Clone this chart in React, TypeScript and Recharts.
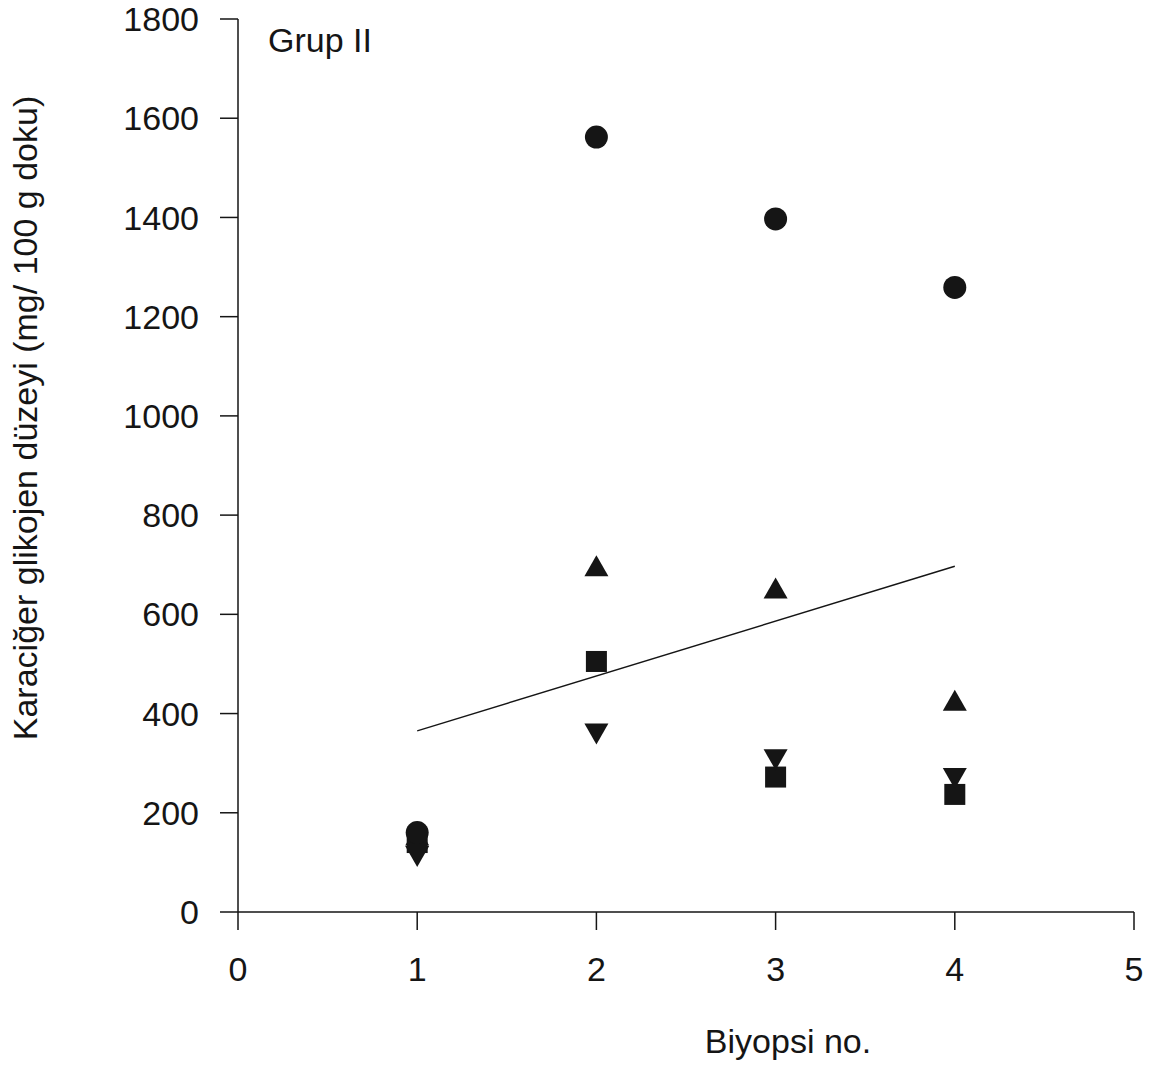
import React from 'react';
import { ScatterChart, Scatter, XAxis, YAxis } from 'recharts';

// values (Grup II)
const biopsies = [1, 2, 3, 4];
const circleValues = [160, 1562, 1397, 1259];
const upTriangleValues = [150, 693, 648, 422];
const squareValues = [140, 505, 272, 237];
const downTriangleValues = [117, 364, 312, 274];

const trendX = [1, 4];
const trendY = [365, 697];

const xTicks = [0, 1, 2, 3, 4, 5];
const yTicks = [0, 200, 400, 600, 800, 1000, 1200, 1400, 1600, 1800];

const toPoints = (values: number[]) => biopsies.map((x, i) => ({ x, y: values[i] }));
const trendPoints = trendX.map((x, i) => ({ x, y: trendY[i] }));

const INK = '#151515';
const FONT = '"Liberation Sans", Arial, sans-serif';

const Circle = (props: any) => <circle cx={props.cx} cy={props.cy} r={11.5} fill={INK} />;

const Square = (props: any) => (
  <rect x={props.cx - 10.5} y={props.cy - 10.5} width={21} height={21} fill={INK} />
);

const UpTriangle = (props: any) => {
  const { cx, cy } = props;
  return <polygon points={`${cx},${cy - 13} ${cx + 12},${cy + 8} ${cx - 12},${cy + 8}`} fill={INK} />;
};

const DownTriangle = (props: any) => {
  const { cx, cy } = props;
  return <polygon points={`${cx - 12},${cy - 8} ${cx + 12},${cy - 8} ${cx},${cy + 13}`} fill={INK} />;
};

const NoDot = () => null;

const tickStyle = { fontSize: 34, fill: INK, fontFamily: FONT };

export default function App() {
  return (
    <div style={{ position: 'absolute', left: 0, top: 0, width: 1156, height: 1067, background: '#fff' }}>
      <ScatterChart
        width={1156}
        height={1067}
        margin={{ top: 19, right: 22, left: 0, bottom: 0 }}
      >
        <XAxis
          type="number"
          dataKey="x"
          domain={[0, 5]}
          ticks={xTicks}
          allowDataOverflow
          height={155}
          tickSize={18}
          tickMargin={27}
          stroke={INK}
          strokeWidth={1.5}
          tick={tickStyle}
          label={{
            content: () => (
              <text x={788} y={1053} textAnchor="middle" fontSize={34} fill={INK} fontFamily={FONT}>
                Biyopsi no.
              </text>
            ),
          }}
        />
        <YAxis
          type="number"
          dataKey="y"
          domain={[0, 1800]}
          ticks={yTicks}
          allowDataOverflow
          width={238}
          tickSize={18}
          tickMargin={21}
          stroke={INK}
          strokeWidth={1.5}
          tick={tickStyle}
          label={{
            content: () => (
              <text
                x={37}
                y={418}
                transform="rotate(-90 37 418)"
                textAnchor="middle"
                fontSize={34}
                fill={INK}
                fontFamily={FONT}
              >
                Karaciğer glikojen düzeyi (mg/ 100 g doku)
              </text>
            ),
          }}
        />
        <Scatter
          data={trendPoints}
          line={{ stroke: INK, strokeWidth: 1.4 }}
          shape={NoDot}
          isAnimationActive={false}
        />
        <Scatter data={toPoints(upTriangleValues)} shape={UpTriangle} isAnimationActive={false} />
        <Scatter data={toPoints(squareValues)} shape={Square} isAnimationActive={false} />
        <Scatter data={toPoints(downTriangleValues)} shape={DownTriangle} isAnimationActive={false} />
        <Scatter data={toPoints(circleValues)} shape={Circle} isAnimationActive={false} />
      </ScatterChart>
      <div
        style={{
          position: 'absolute',
          left: 268,
          top: 23,
          fontSize: 34,
          lineHeight: '34px',
          color: INK,
          fontFamily: FONT,
        }}
      >
        Grup II
      </div>
    </div>
  );
}
